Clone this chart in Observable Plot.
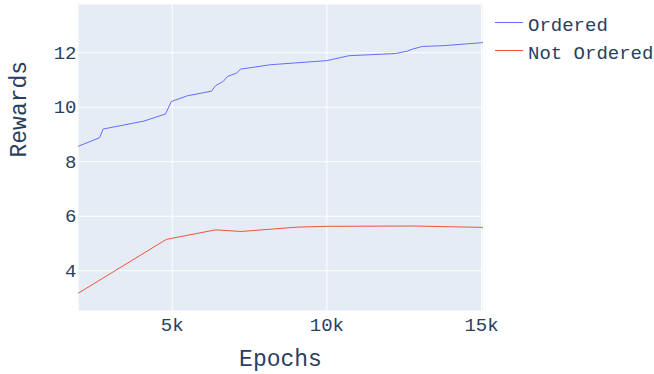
<!DOCTYPE html>
<html><head><meta charset="utf-8">
<script src="https://cdn.jsdelivr.net/npm/d3@7"></script>
<script src="https://cdn.jsdelivr.net/npm/@observablehq/plot@0.6"></script>
<style>
body{margin:0;background:#fff;}
#wrap{position:relative;width:654px;height:374px;}
#wrap > svg.legend{position:absolute;left:0;top:0;}
</style></head><body><div id="wrap"></div>
<script>
const orderedEpochs = [1970, 2650, 2770, 4080, 4780, 4970, 5490, 6270, 6400, 6650, 6790, 7080, 7210, 7530, 8180, 10000, 10710, 12220, 12600, 12760, 13080, 13780, 15030];
const orderedRewards = [8.57, 8.88, 9.2, 9.49, 9.75, 10.21, 10.42, 10.59, 10.79, 10.95, 11.13, 11.25, 11.4, 11.45, 11.56, 11.71, 11.89, 11.97, 12.06, 12.13, 12.23, 12.26, 12.37];
const notOrderedEpochs = [1970, 4810, 6400, 7230, 9040, 10000, 12820, 15030];
const notOrderedRewards = [3.18, 5.15, 5.5, 5.44, 5.6, 5.63, 5.64, 5.59];
const seriesNames = ["Ordered", "Not Ordered"];
const seriesColors = ["#636efa", "#EF553B"];
const xTickValues = [5000, 10000, 15000];
const xTickLabels = ["5k", "10k", "15k"];
const yTickValues = [4, 6, 8, 10, 12];
const xTitle = "Epochs";
const yTitle = "Rewards";

const rows = [
  ...orderedEpochs.map((e, i) => ({epoch: e, reward: orderedRewards[i], series: seriesNames[0]})),
  ...notOrderedEpochs.map((e, i) => ({epoch: e, reward: notOrderedRewards[i], series: seriesNames[1]}))
];

const font = "'Liberation Mono', monospace";
const chart = Plot.plot({
  width: 654, height: 374,
  marginLeft: 78, marginRight: 172, marginTop: 4, marginBottom: 64,
  x: {domain: [1970, 15030]},
  y: {domain: [2.54, 13.77]},
  color: {domain: seriesNames, range: seriesColors},
  style: {fontFamily: font, color: "#2a3f5f", background: "white", overflow: "visible"},
  marks: [
    Plot.frame({fill: "#E5ECF6", stroke: null}),
    Plot.gridX(xTickValues, {stroke: "white", strokeOpacity: 1, strokeWidth: 1}),
    Plot.gridY(yTickValues, {stroke: "white", strokeOpacity: 1, strokeWidth: 1}),
    Plot.line(rows, {x: "epoch", y: "reward", z: "series", stroke: "series", strokeWidth: 1}),
    Plot.axisX(xTickValues, {tickFormat: d => xTickLabels[xTickValues.indexOf(d)], tickSize: 0, tickPadding: 7, fontSize: 19, label: null}),
    Plot.axisY(yTickValues, {tickSize: 0, tickPadding: 2, fontSize: 19, label: null}),
    Plot.text([xTitle], {frameAnchor: "bottom", dy: 48, fontSize: 23, lineAnchor: "middle"}),
    Plot.text([yTitle], {frameAnchor: "left", dx: -60, rotate: -90, fontSize: 23, lineAnchor: "middle"})
  ]
});
const wrap = document.getElementById("wrap");
wrap.appendChild(chart);

// legend
const leg = d3.select(wrap).append("svg").attr("class", "legend")
  .attr("width", 654).attr("height", 80)
  .style("font-family", font).style("font-size", "19px");
seriesNames.forEach((name, i) => {
  const g = leg.append("g").attr("transform", `translate(0,${i * 28})`);
  g.append("line").attr("x1", 495).attr("x2", 523).attr("y1", 22.5).attr("y2", 22.5)
    .attr("stroke", seriesColors[i]).attr("stroke-width", 1);
  g.append("text").attr("x", 528).attr("y", 30.5).attr("fill", "#2a3f5f").text(name);
});
</script>
</body></html>
